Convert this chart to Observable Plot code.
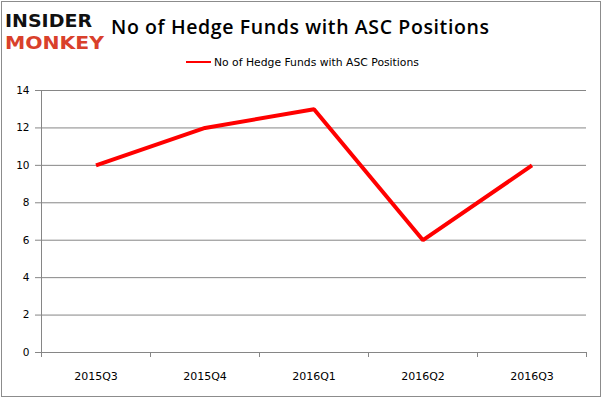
<!DOCTYPE html>
<html><head><meta charset="utf-8">
<script src="https://cdn.jsdelivr.net/npm/d3@7"></script>
<script src="https://cdn.jsdelivr.net/npm/@observablehq/plot@0.6"></script>
<style>
html,body{margin:0;padding:0;background:#fff;}
#wrap{position:relative;width:602px;height:398px;overflow:hidden;background:#fff;}
#frame{position:absolute;left:1px;top:1px;width:598px;height:394px;border:1px solid #8c8c8c;box-sizing:content-box;pointer-events:none;}
#header{position:relative;height:75px;}
#logo{position:absolute;left:5px;top:8px;}
#title{position:absolute;left:111px;top:14px;font-family:"Open Sans",sans-serif;font-weight:600;font-size:19.5px;line-height:26px;color:#000;white-space:nowrap;}
#legend{position:absolute;left:186px;top:55px;height:14px;font-family:"DejaVu Sans",sans-serif;font-size:10.8px;color:#000;display:flex;align-items:center;white-space:nowrap;}
#legend .sw{display:inline-block;width:25px;height:2px;background:#ff0000;margin-right:3px;}
#chart{position:absolute;left:0;top:75px;}
</style></head>
<body>
<div id="wrap">
  <div id="header">
    <svg id="logo" width="102" height="46" viewBox="0 0 102 46">
      <text x="0" y="19" textLength="87" lengthAdjust="spacingAndGlyphs" font-family="DejaVu Sans Condensed, DejaVu Sans" font-weight="bold" font-size="18" fill="#111">INSIDER</text>
      <text x="0" y="41" textLength="99" lengthAdjust="spacingAndGlyphs" font-family="DejaVu Sans Condensed, DejaVu Sans" font-weight="bold" font-size="18" fill="#d9402b">MONKEY</text>
    </svg>
    <div id="title"></div>
    <div id="legend"><span class="sw"></span><span id="legendText"></span></div>
  </div>
  <div id="chart"></div>
  <div id="frame"></div>
</div>
<script>
const titleText = "No of Hedge Funds with ASC Positions";
const seriesName = "No of Hedge Funds with ASC Positions";
const quarters = ["2015Q3", "2015Q4", "2016Q1", "2016Q2", "2016Q3"];
const funds = [10, 12, 13, 6, 10];
const yTicks = [0, 2, 4, 6, 8, 10, 12, 14];

const titleEl = document.getElementById("title");
titleEl.textContent = titleText;
// stretch title spacing to the reference width
{
  const w = titleEl.getBoundingClientRect().width;
  const target = 378;
  const n = titleText.length - 1;
  titleEl.style.letterSpacing = ((target - w) / n) + "px";
}
document.getElementById("legendText").textContent = seriesName;

const data = quarters.map((q, i) => ({quarter: q, value: funds[i]}));

// Excel-style tick marks at band boundaries, derived from the x scale
function boundaryTicks(index, scales, values, dims) {
  const x = scales.x;
  const bw = x.bandwidth ? x.bandwidth() : 0;
  const y0 = dims.height - dims.marginBottom;
  const g = d3.create("svg:g").attr("stroke", "#868686").attr("stroke-width", 1);
  const xs = quarters.map(q => x(q));
  xs.push(x(quarters[quarters.length - 1]) + bw);
  for (const v of xs) {
    g.append("line").attr("x1", Math.round(v) + 0.5).attr("x2", Math.round(v) + 0.5)
      .attr("y1", y0).attr("y2", y0 + 5);
  }
  return g.node();
}

const plot = Plot.plot({
  width: 602,
  height: 323,
  marginLeft: 41,
  marginRight: 16,
  marginTop: 15,
  marginBottom: 46,
  style: {fontFamily: "DejaVu Sans, sans-serif", fontSize: "10.5px", color: "#000", background: "transparent"},
  x: {type: "band", domain: quarters, padding: 0, label: null, axis: null},
  y: {domain: [0, 14], ticks: yTicks, label: null, axis: null},
  marks: [
    Plot.gridY(yTicks, {stroke: "#868686", strokeOpacity: 1, strokeWidth: 1}),
    Plot.axisY(yTicks, {tickSize: 6, tickPadding: 6, stroke: "#868686", label: null, fontSize: 10.5}),
    Plot.frame({anchor: "left", stroke: "#868686"}),
    boundaryTicks,
    Plot.axisX({tickSize: 0, tickPadding: 20, label: null, fontSize: 11}),
    Plot.line(data, {x: "quarter", y: "value", stroke: "#ff0000", strokeWidth: 4, strokeLinejoin: "miter", strokeLinecap: "butt"})
  ]
});
document.getElementById("chart").appendChild(plot);
</script>
</body></html>
